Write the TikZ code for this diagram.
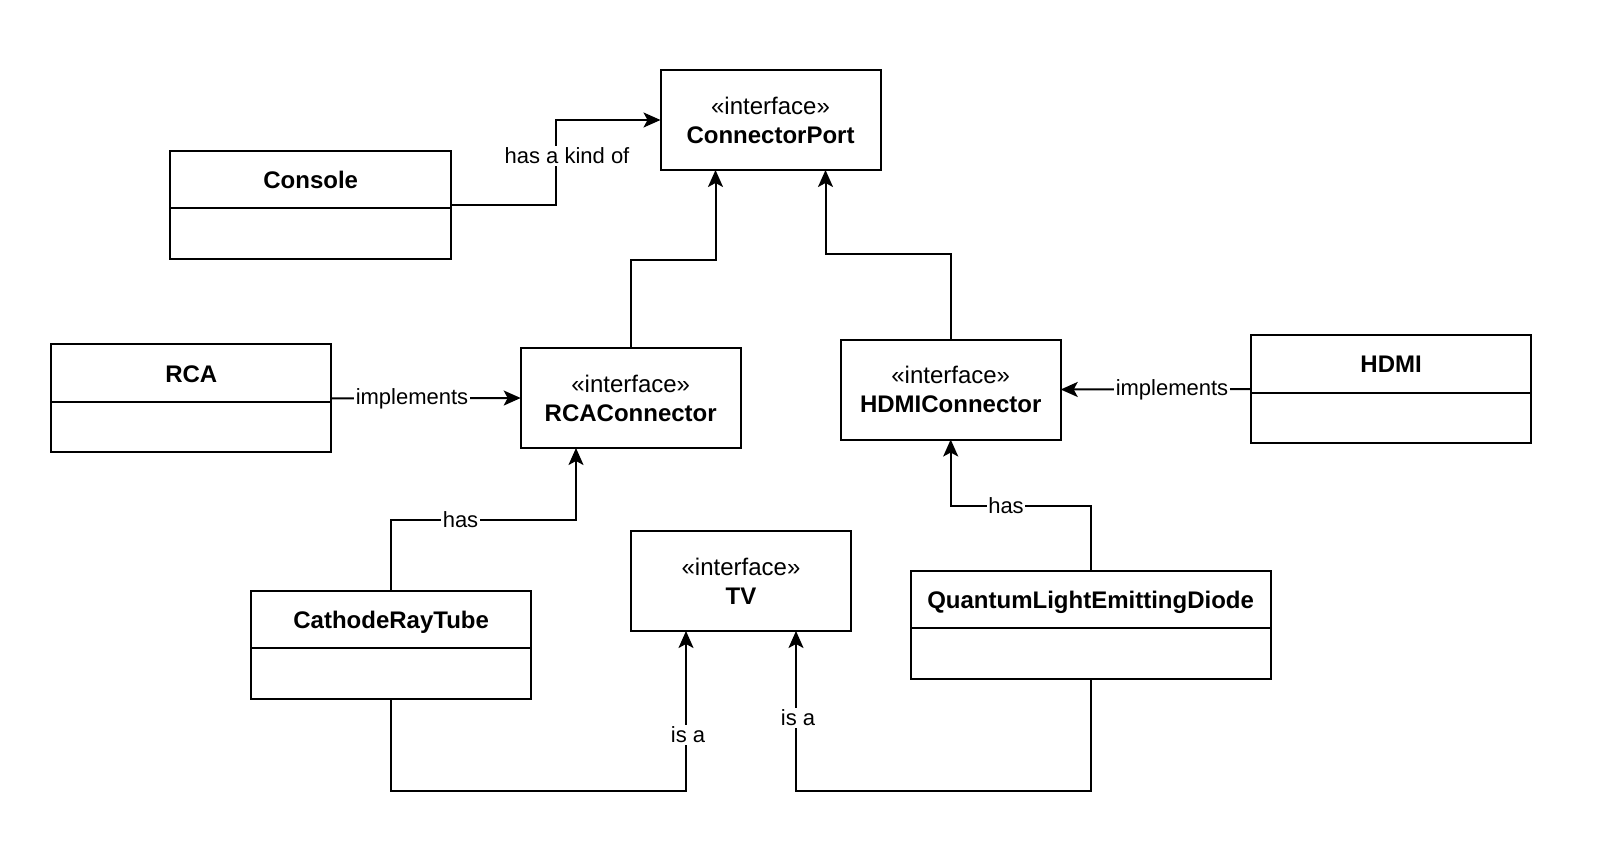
\documentclass[tikz,border=0pt]{standalone}
\usepackage{fontspec}
\setmainfont{Liberation Sans}
\usetikzlibrary{arrows.meta,calc}
\begin{document}
\begin{tikzpicture}[x=1pt,y=-1pt,
  box/.style={draw, line width=2pt, inner sep=0pt, outer sep=0pt},
  iface/.style={box, minimum width=220pt, minimum height=100pt, align=center, font=\fontsize{24}{29}\selectfont},
  cls/.style={box, minimum height=108pt},
  title/.style={font=\fontsize{24}{29}\selectfont\bfseries, inner sep=0pt, anchor=base},
  divider/.style={line width=2pt},
  conn/.style={line width=2pt, -{Stealth[length=17pt,width=15pt,inset=4pt]}},
  lbl/.style={font=\fontsize{22}{26}\selectfont, fill=white, inner sep=1.5pt},
]
\useasboundingbox[fill=white] (0,0) rectangle (1608,848);

% interfaces
\node[iface] (cport) at (770.5,120) {«interface»\\\textbf{ConnectorPort}};
\node[iface] (rcac) at (630.7,398) {«interface»\\\textbf{RCAConnector}};
\node[iface] (hdmic) at (950.7,389.5) {«interface»\\\textbf{HDMIConnector}};
\node[iface] (tv) at (741,581) {«interface»\\\textbf{TV}};

% classes
\node[cls, minimum width=281pt] (console) at (310.7,204.6) {};
\node[title] (consoleT) at ($(console.north)+(0,37.6)$) {Console};
\draw[divider] ($(console.north west)+(0,57.5)$) -- ($(console.north east)+(0,57.5)$);

\node[cls, minimum width=280pt] (rca) at (191.3,398.4) {};
\node[title] (rcaT) at ($(rca.north)+(0,37.6)$) {RCA};
\draw[divider] ($(rca.north west)+(0,57.5)$) -- ($(rca.north east)+(0,57.5)$);

\node[cls, minimum width=280pt] (hdmi) at (1391.1,389.2) {};
\node[title] (hdmiT) at ($(hdmi.north)+(0,37.6)$) {HDMI};
\draw[divider] ($(hdmi.north west)+(0,57.5)$) -- ($(hdmi.north east)+(0,57.5)$);

\node[cls, minimum width=280pt] (crt) at (391.2,644.5) {};
\node[title] (crtT) at ($(crt.north)+(0,37.6)$) {CathodeRayTube};
\draw[divider] ($(crt.north west)+(0,57.5)$) -- ($(crt.north east)+(0,57.5)$);

\node[cls, minimum width=360pt] (qled) at (1090.6,624.5) {};
\node[title] (qledT) at ($(qled.north)+(0,37.6)$) {QuantumLightEmittingDiode};
\draw[divider] ($(qled.north west)+(0,57.5)$) -- ($(qled.north east)+(0,57.5)$);

% connectors
\draw[conn] (console.east) -| (555.8,120) -- (cport.west);
\node[lbl] (l1) at (567,156) {has a kind of};

\draw[conn] (rcac.north) |- (715.5,259.5) -- ($(cport.south)+(-55,0)$);
\draw[conn] (hdmic.north) |- (825.5,254.3) -- ($(cport.south)+(55,0)$);

\draw[conn] (rca.east) -- (rcac.west);
\node[lbl] (l2) at (412,398.4) {implements};

\draw[conn] (hdmi.west) -- (hdmic.east);
\node[lbl] (l3) at (1172,389.5) {implements};

\draw[conn] (crt.north) |- (576,520) -- ($(rcac.south)+(-54.7,0)$);
\node[lbl] (l4) at (460.5,520) {has};

\draw[conn] (qled.north) |- (950.7,505.6) -- (hdmic.south);
\node[lbl] (l5) at (1006,505.6) {has};

\draw[conn] (crt.south) |- (686,790.7) -- ($(tv.south)+(-55,0)$);
\node[lbl] (l6) at (688,735) {is a};

\draw[conn] (qled.south) |- (796,790.7) -- ($(tv.south)+(55,0)$);
\node[lbl] (l7) at (798,718) {is a};
\end{tikzpicture}
\end{document}
